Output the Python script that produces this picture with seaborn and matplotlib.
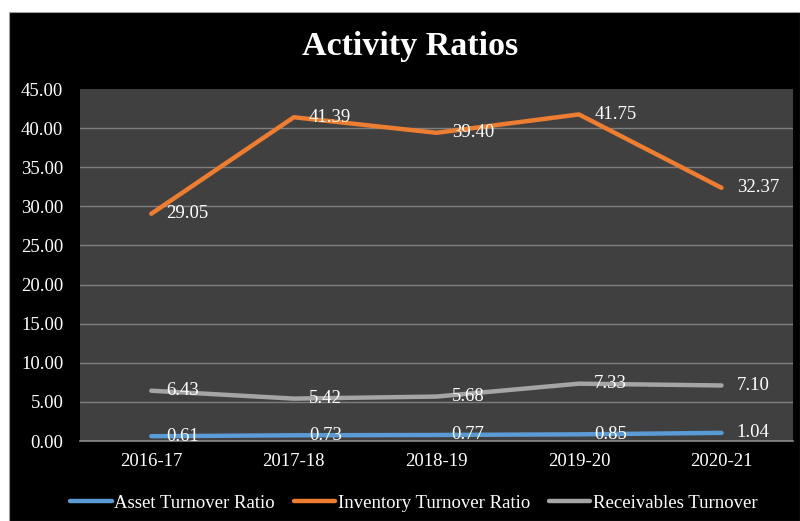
import matplotlib
matplotlib.use("Agg")
import matplotlib.pyplot as plt
import seaborn as sns
import pandas as pd
from matplotlib.patches import Rectangle
from matplotlib.lines import Line2D

years = ["2016-17", "2017-18", "2018-19", "2019-20", "2020-21"]
asset_turnover = [0.61, 0.73, 0.77, 0.85, 1.04]
inventory_turnover = [29.05, 41.39, 39.40, 41.75, 32.37]
receivables_turnover = [6.43, 5.42, 5.68, 7.33, 7.10]
series_names = ["Asset Turnover Ratio", "Inventory Turnover Ratio", "Receivables Turnover"]
series_colors = ["#5B9BD5", "#ED7D31", "#A5A5A5"]
y_ticks = [0, 5, 10, 15, 20, 25, 30, 35, 40, 45]

rows = []
for name, vals in zip(series_names, [asset_turnover, inventory_turnover, receivables_turnover]):
    for i, (y, v) in enumerate(zip(years, vals)):
        rows.append({"Year": y, "idx": i, "Value": v, "Series": name})
df = pd.DataFrame(rows)

sns.set_theme(style="dark")
plt.rcParams["font.family"] = ["Liberation Serif", "DejaVu Serif"]

fig = plt.figure(figsize=(8.0, 5.21), dpi=100)
fig.patch.set_facecolor("white")
fig.patches.append(Rectangle((9 / 800, 0), 1 - 9 / 800, (521 - 12) / 521,
                             transform=fig.transFigure, facecolor="black",
                             edgecolor="#A0A0A0", linewidth=0.8, zorder=0))

ax = fig.add_axes([0.1, 1 - 441 / 521, 0.991 - 0.1, (441 - 89) / 521])
ax.set_zorder(2)
ax.set_facecolor("#404040")

sns.lineplot(data=df, x="idx", y="Value", hue="Series", palette=series_colors,
             hue_order=series_names, linewidth=3.2, ax=ax, legend=False,
             solid_capstyle="round")

for name, vals, col in zip(series_names, [asset_turnover, inventory_turnover, receivables_turnover], series_colors):
    for i, v in enumerate(vals):
        ax.annotate(f"{v:.2f}", (i, v), xytext=(11, 0), textcoords="offset points",
                    ha="left", va="center", color="white", fontsize=13.5)

ax.set_xlim(-0.5, 4.5)
ax.set_ylim(0, 45)
ax.set_yticks(y_ticks)
ax.set_yticklabels([f"{t:.2f}" for t in y_ticks])
ax.set_xticks(range(len(years)))
ax.set_xticklabels(years)
ax.tick_params(axis="y", colors="white", labelsize=13.5, length=0, pad=12)
ax.tick_params(axis="x", colors="white", labelsize=13.5, length=0, pad=9)
ax.set_xlabel("")
ax.set_ylabel("")
ax.grid(False)
for t in y_ticks[1:-1]:
    ax.axhline(t, color="#7F7F7F", linewidth=1.0, zorder=0.5)
for s in ["top", "right", "left"]:
    ax.spines[s].set_visible(False)
ax.spines["bottom"].set_visible(True)
ax.spines["bottom"].set_color("#8C8C8C")
ax.spines["bottom"].set_linewidth(1.2)

fig.text(410 / 800, 1 - 46 / 521, "Activity Ratios", ha="center", va="center",
         color="white", fontsize=24.5, fontweight="bold")

handles = [Line2D([0], [0], color=c, linewidth=3.2) for c in series_colors]
fig.legend(handles, series_names, loc="center", bbox_to_anchor=(414 / 800, 1 - 503 / 521),
           ncol=3, frameon=False, fontsize=13.5, labelcolor="white",
           handlelength=2.2, handletextpad=0.15, columnspacing=1.0)

fig.savefig("out.png", dpi=100, facecolor=fig.get_facecolor())
